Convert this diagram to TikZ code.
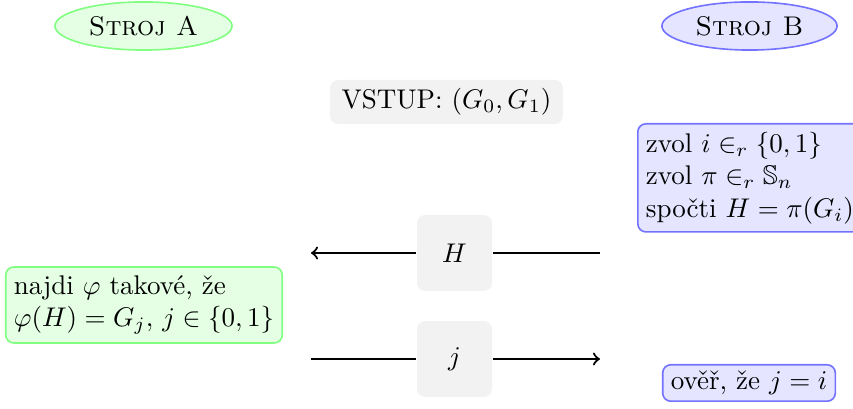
\documentclass[tikz,border=0pt]{standalone}
\usepackage{amssymb}
\usetikzlibrary{shapes.geometric}
\tikzset{
  machA/.style={ellipse, draw=green!50, fill=green!10, line width=0.6pt,
    minimum width=65.5pt, minimum height=17.8pt, inner sep=0pt},
  machB/.style={ellipse, draw=blue!55, fill=blue!10, line width=0.6pt,
    minimum width=64.8pt, minimum height=17.8pt, inner sep=0pt},
  grbox/.style={fill=gray!10, rounded corners=3pt, inner sep=0pt},
  abox/.style={draw=green!50, fill=green!10, line width=0.6pt, rounded corners=3pt,
    align=left, inner sep=3pt},
  bbox/.style={draw=blue!55, fill=blue!10, line width=0.6pt, rounded corners=3pt,
    align=left, inner sep=3pt},
  msg/.style={thick},
}
\begin{document}
\begin{tikzpicture}[x=0.37pt, y=-0.37pt]
  \useasboundingbox (0,0) rectangle (853,409);

  % the two machines
  \node[machA] (A) at (143.5,26) {\textsc{Stroj A}};
  \node[machB] (B) at (749.5,26) {\textsc{Stroj B}};

  % common input
  \node[grbox, minimum width=86.2pt, minimum height=16.3pt] (in) at (446.5,102)
    {VSTUP: $(G_0,G_1)$};

  % machine B: choose and compute
  \node[bbox, anchor=north west] (b1) at (637,123)
    {zvol $i \in_r \{0,1\}$\\ zvol $\pi \in_r \mathbb{S}_n$\\ spočti $H = \pi(G_i)$};

  % machine A: find isomorphism
  \node[abox, minimum width=101.4pt, minimum height=28.1pt] (a1) at (144,305)
    {najdi $\varphi$ takové, že\\ $\varphi(H) = G_j,\, j \in \{0,1\}$};

  % machine B: verification
  \node[bbox, inner xsep=3pt, inner ysep=2.3pt] (b2) at (749,383) {ověř, že $j = i$};

  % messages
  \node[grbox, minimum width=27.75pt, minimum height=28.1pt] (H) at (454.5,253) {$H$};
  \node[grbox, minimum width=27.75pt, minimum height=28.1pt] (J) at (454.5,359) {$j$};

  \coordinate (hR) at (600,253);
  \coordinate (hL) at (311,253);
  \coordinate (jL) at (311,359);
  \coordinate (jR) at (600,359);

  \draw[msg] (hR) -- (H);
  \draw[msg, ->] (H) -- (hL);
  \draw[msg] (jL) -- (J);
  \draw[msg, ->] (J) -- (jR);
\end{tikzpicture}
\end{document}
